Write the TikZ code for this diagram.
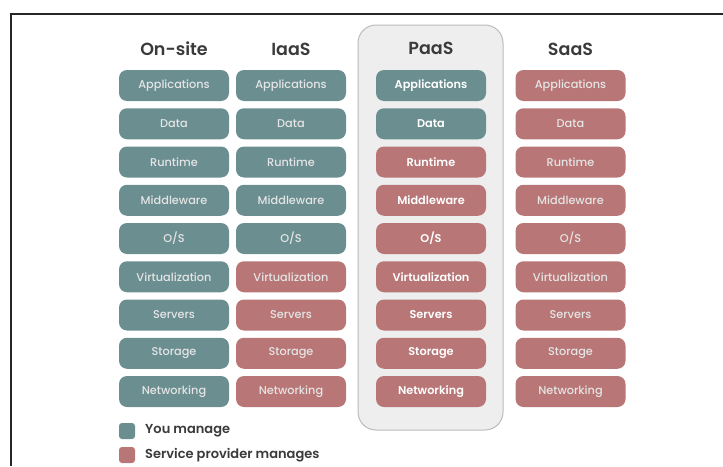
\documentclass[tikz,border=0pt]{standalone}
\usepackage{fontspec}
\setmainfont{Poppins}
\newfontfamily\medfont{Poppins}[UprightFont=*-Medium, BoldFont=*-SemiBold]
\definecolor{mine}{HTML}{6B8E91}
\definecolor{prov}{HTML}{B87676}
\definecolor{panel}{HTML}{EEEEEE}
\definecolor{panelline}{HTML}{BBBBBB}
\definecolor{head}{HTML}{3A3A3A}
\tikzset{
  layer/.style={rounded corners=8pt, minimum width=110pt, minimum height=31pt,
    inner sep=0pt, text=white!90!black, font=\medfont\fontsize{11.3}{13}\selectfont},
  you/.style={layer, fill=mine},
  sp/.style={layer, fill=prov},
  strong/.style={text=white, font=\medfont\fontsize{11.3}{13}\selectfont\bfseries},
  colhead/.style={text=head, font=\medfont\fontsize{17.5}{19}\selectfont\bfseries},
  key/.style={rounded corners=3pt, minimum width=16pt, minimum height=16pt, inner sep=0pt},
  keytext/.style={anchor=west, text=head, font=\medfont\fontsize{13}{15}\selectfont\bfseries, inner sep=0pt}
}
\begin{document}
\begin{tikzpicture}[x=1pt,y=-1pt]
\useasboundingbox (0,0) rectangle (723,466);
% frame edges
\draw[line width=2pt, black!85] (11,466) -- (11,14) -- (723,14);
% highlighted PaaS panel
\draw[panelline, fill=panel, rounded corners=18pt, line width=1pt] (358,25) rectangle (503,430);
% column headings
\node[colhead] (h1) at (174,49) {On-site};
\node[colhead] (h2) at (291,49) {IaaS};
\node[colhead] (h3) at (431,48) {PaaS};
\node[colhead] (h4) at (570.5,49) {SaaS};
% layer rows
\foreach \lbl [count=\i from 0] in {Applications,Data,Runtime,Middleware,O/S,Virtualization,Servers,Storage,Networking}{
  \pgfmathsetmacro{\yy}{85.5+38.25*\i}
  % on-site: all managed by you
  \node[you] (a\i) at (174,\yy) {\lbl};
  % IaaS: top five by you
  \ifnum\i<5
    \node[you] (b\i) at (291,\yy) {\lbl};
  \else
    \node[sp] (b\i) at (291,\yy) {\lbl};
  \fi
  % PaaS: top two by you
  \ifnum\i<2
    \node[you,strong] (c\i) at (431,\yy) {\lbl};
  \else
    \node[sp,strong] (c\i) at (431,\yy) {\lbl};
  \fi
  % SaaS: all by provider
  \node[sp] (d\i) at (570.5,\yy) {\lbl};
}
% legend
\node[key, fill=mine] (k1) at (127,431) {};
\node[keytext] (t1) at (145,431) {You manage};
\node[key, fill=prov] (k2) at (127,455) {};
\node[keytext] (t2) at (145,455) {Service provider manages};
\end{tikzpicture}
\end{document}
